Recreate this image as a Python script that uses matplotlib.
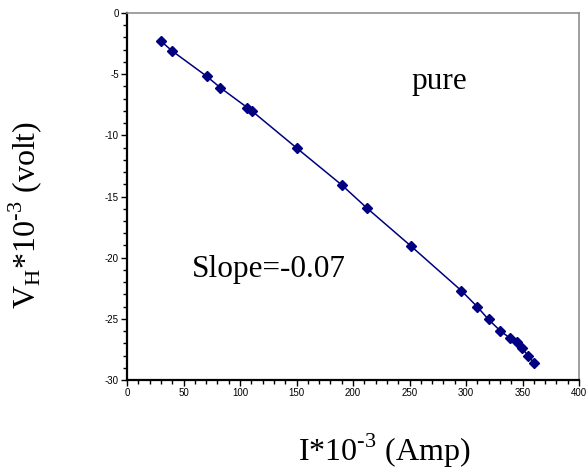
import numpy as np
import matplotlib
matplotlib.use('Agg')
import matplotlib.pyplot as plt
import matplotlib.ticker as ticker

# current (x10^-3 A) and Hall voltage (x10^-3 V)
current = [29.9, 39.9, 70.5, 82.5, 106.4, 110.4, 150.3, 190.2, 212.1, 251.0,
           295.9, 309.9, 319.9, 330.2, 339.2, 344.8, 349.8, 355.1, 360.1]
hall_v = [-2.29, -3.10, -5.17, -6.10, -7.73, -8.00, -11.05, -14.07, -15.93, -19.03,
          -22.70, -24.01, -25.05, -25.97, -26.60, -26.87, -27.41, -28.04, -28.58]

plt.rcParams['mathtext.fontset'] = 'custom'
plt.rcParams['mathtext.rm'] = 'Liberation Serif'
plt.rcParams['axes.unicode_minus'] = False

navy = '#000080'
serif = 'Liberation Serif'
sans = 'Liberation Sans'

fig = plt.figure(figsize=(5.87, 4.75), dpi=100)
ax = fig.add_axes([0.2164, 0.2, 0.77, 0.7726])

ax.plot(current, hall_v, color=navy, lw=1.1, marker='D', markersize=5.3,
        markerfacecolor=navy, markeredgecolor=navy)

ax.set_xlim(0, 400)
ax.set_ylim(-30, 0)
ax.xaxis.set_major_locator(ticker.MultipleLocator(50))
ax.xaxis.set_minor_locator(ticker.MultipleLocator(10))
ax.yaxis.set_major_locator(ticker.MultipleLocator(5))
ax.yaxis.set_minor_locator(ticker.MultipleLocator(1))

ax.tick_params(which='both', direction='out', width=1, colors='black',
               labelsize=7, pad=2)
ax.tick_params(which='major', length=4)
ax.tick_params(which='minor', length=3)
for lab in ax.get_xticklabels() + ax.get_yticklabels():
    lab.set_fontfamily(sans)

ax.spines['left'].set_linewidth(1.6)
ax.spines['bottom'].set_linewidth(1.6)
ax.spines['top'].set_color('#909090')
ax.spines['right'].set_color('#909090')
ax.spines['top'].set_linewidth(1.2)
ax.spines['right'].set_linewidth(1.2)

ax.text(57.5, -21.0, 'Slope=-0.07', fontsize=22.5, family=serif,
        ha='left', va='center')
ax.text(252, -5.6, 'pure', fontsize=22.5, family=serif,
        ha='left', va='center')

fig.text(384/587, 1 - 451/475, r'I*10$^{\text{-3}}$ (Amp)', fontsize=23,
         family=serif, ha='center', va='center')
fig.text(25/587, 1 - 215/475, r'V$_{\text{H}}$*10$^{\text{-3}}$ (volt)',
         fontsize=23, family=serif, ha='center', va='center', rotation=90)

fig.savefig('out.png', dpi=100)
